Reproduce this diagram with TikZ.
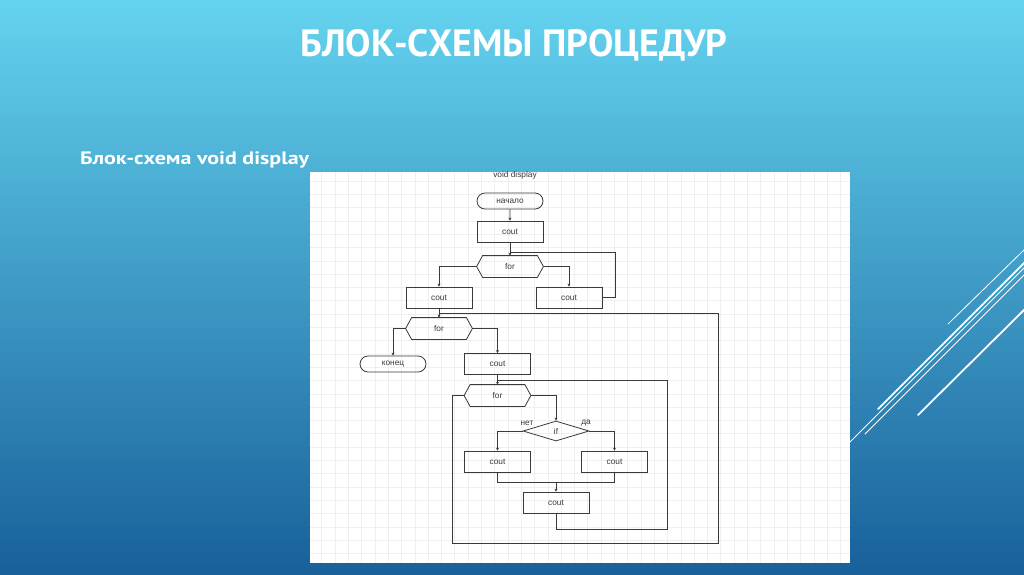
\documentclass[tikz,border=0pt]{standalone}
\usepackage{fontspec}
\setmainfont{Liberation Sans}
\newfontfamily\titlefont{PT Sans}
\usetikzlibrary{shapes.misc,shapes.geometric,arrows.meta,calc}
\definecolor{bgtop}{HTML}{64D3EF}
\definecolor{bgbot}{HTML}{18609A}
\definecolor{gridc}{HTML}{EFEFEF}
\definecolor{ink}{HTML}{3A3A3A}
\tikzset{
  flow/.style={draw=ink, line width=0.8pt, font=\fontsize{8.3}{9}\selectfont, text=ink, inner sep=0pt},
  procbox/.style={flow, rectangle, minimum width=66pt, minimum height=21pt},
  termbox/.style={flow, rounded rectangle, minimum width=66pt, minimum height=16pt},
  hexbox/.style={flow, draw=none, rectangle, minimum width=66pt, minimum height=21pt},
  decbox/.style={flow, diamond, minimum width=66pt, minimum height=20pt},
  conn/.style={draw=ink, line width=0.7pt},
  arr/.style={conn, -{Stealth[length=3pt,width=3pt]}},
  deco/.style={white, line cap=round},
  lab/.style={font=\fontsize{8.3}{9}\selectfont, text=ink, inner sep=0pt},
}
\newcommand{\hexdraw}[1]{\draw[conn,line width=0.8pt] (#1.west) -- ([xshift=6pt]#1.north west) -- ([xshift=-6pt]#1.north east) -- (#1.east) -- ([xshift=-6pt]#1.south east) -- ([xshift=6pt]#1.south west) -- cycle;}
\begin{document}
\begin{tikzpicture}[x=1pt,y=-1pt]
\useasboundingbox (0,0) rectangle (1024,574);
% background
\shade[top color=bgtop, bottom color=bgbot] (0,0) rectangle (1024,574);
% decorative lines
\draw[deco, line width=0.8pt] (948,324) -- (1026,248);
\draw[deco, line width=1.8pt] (878,409) -- (1026,261);
\draw[deco, line width=0.8pt] (850,442) -- (1026,266);
\draw[deco, line width=0.8pt] (865,434) -- (1026,273);
\draw[deco, line width=1.8pt] (918,415) -- (1026,308);
% titles
\node[text=white, font=\titlefont\bfseries\fontsize{38}{42}\selectfont, anchor=base] (title) at (514,56) {БЛОК-СХЕМЫ ПРОЦЕДУР};
\node[text=white, font=\titlefont\bfseries\fontsize{18}{20}\selectfont, anchor=base west, inner sep=0pt, transform shape, xscale=1.22] (sub) at (80,164) {Блок-схема void display};
% panel
\fill[white] (310,172) rectangle (850,563);
\begin{scope}
\clip (310,172) rectangle (850,563);
\foreach \i in {0,...,40} {\draw[gridc, line width=0.6pt] ({321.7+13.3*\i},172) -- ({321.7+13.3*\i},563);}
\foreach \j in {0,...,29} {\draw[gridc, line width=0.6pt] (310,{181+13.3*\j}) -- (850,{181+13.3*\j});}
\end{scope}
\node[lab] (cap) at (515,175) {void display};
% nodes
\node[termbox] (start) at (510,201) {начало};
\node[procbox] (cout1) at (510,231.5) {cout};
\node[hexbox] (for1) at (510,266.5) {for};
\node[procbox] (coutL) at (439,297.5) {cout};
\node[procbox] (coutR) at (569,297.5) {cout};
\node[hexbox] (for2) at (439,328.5) {for};
\node[termbox] (end) at (393,364) {конец};
\node[procbox] (cout2) at (497.5,364) {cout};
\node[hexbox] (for3) at (497.5,395.5) {for};
\node[decbox] (if) at (556,431) {if};
\node[procbox] (cout3) at (497.5,461.5) {cout};
\node[procbox] (cout3r) at (614.5,461.5) {cout};
\node[procbox] (cout4) at (556,502.5) {cout};
\hexdraw{for1}
\hexdraw{for2}
\hexdraw{for3}
\node[lab] (no) at (527,423) {нет};
\node[lab] (yes) at (586,423) {да};
% junctions
\coordinate (j1) at (510,252);
\coordinate (j2) at (439,313);
\coordinate (j3) at (497.5,380);
\coordinate (m) at (556,482);
% connectors
\draw[arr] (start) -- (cout1);
\draw[arr] (cout1) -- (for1);
\draw[arr] (for1.west) -| (coutL.north);
\draw[arr] (for1.east) -| (coutR.north);
\draw[conn] (coutR.east) -- ++(13,0) |- (j1);
\draw[arr] (coutL) -- (for2);
\draw[arr] (for2.west) -| (end.north);
\draw[arr] (for2.east) -| (cout2.north);
\draw[arr] (cout2) -- (for3);
\draw[arr] (for3.east) -| (if.north);
\draw[arr] (if.west) -| (cout3.north);
\draw[arr] (if.east) -| (cout3r.north);
\draw[conn] (cout3.south) |- (m);
\draw[conn] (cout3r.south) |- (m);
\draw[arr] (m) -- (cout4.north);
\draw[conn] (cout4.south) -- ++(0,15.5) -| (667,380) -- (j3);
\draw[conn] (for3.west) -- ++(-12,0) |- (718,543) |- (j2);
\end{tikzpicture}
\end{document}
